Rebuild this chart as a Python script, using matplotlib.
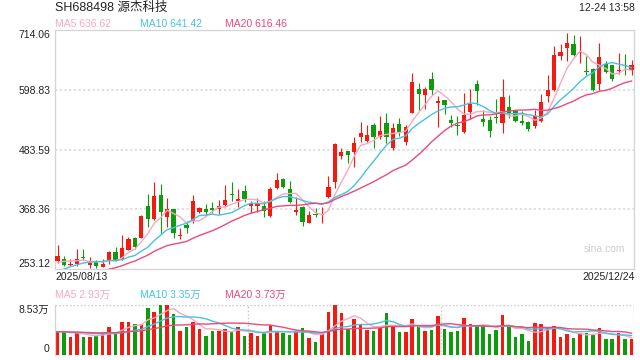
import numpy as np
import pandas as pd
import matplotlib
matplotlib.use('Agg')
import matplotlib.pyplot as plt

plt.rcParams['font.family'] = ['Liberation Sans', 'Noto Sans CJK SC', 'DejaVu Sans']

# daily k-line, 2025/08/13 .. 2025/12/24
opens = [268.7, 272.6, 260.4, 263.5, 276.5, 261.6, 266.8, 257.7, 270.7, 285.5,
         272.6, 290.5, 313.1, 313.7, 374.9, 349.2, 396.1, 354.2, 368.5, 317.0,
         338.2, 345.9, 363.3, 369.1, 371.6, 368.5, 376.8, 398.6, 384.5, 403.8,
         374.9, 375.5, 375.5, 355.6, 409.6, 426.9, 407.7, 363.3, 373.5, 342.7,
         359.4, 358.1, 392.8, 421.8, 471.4, 481.0, 479.7, 508.6, 500.3, 530.6,
         507.4, 534.5, 487.4, 532.5, 498.9, 554.9, 600.6, 589.0, 619.9, 573.0,
         579.4, 540.8, 531.2, 518.2, 556.8, 610.3, 542.7, 540.8, 546.6, 535.0,
         565.9, 558.8, 539.5, 537.0, 529.2, 538.3, 587.7, 599.3, 663.7, 678.4,
         686.1, 669.5, 635.9, 639.8, 610.3, 648.8, 645.6, 635.4, 646.9, 636.7]
highs = [299.0, 278.4, 272.0, 291.3, 291.3, 277.0, 270.7, 272.0, 287.5, 295.2,
         318.3, 314.5, 315.6, 357.5, 398.0, 421.2, 417.3, 389.7, 369.5, 331.9,
         346.5, 395.5, 373.5, 378.7, 383.2, 386.4, 415.4, 421.2, 407.7, 414.8,
         385.1, 390.3, 385.1, 412.1, 439.1, 428.9, 423.7, 391.7, 375.5, 365.8,
         370.4, 373.5, 432.7, 497.0, 486.8, 481.5, 508.6, 537.5, 531.2, 535.6,
         548.5, 553.7, 534.5, 545.2, 531.2, 630.9, 611.6, 605.0, 634.0, 587.7,
         580.0, 550.4, 548.5, 592.3, 600.0, 618.0, 560.1, 548.5, 581.9, 619.9,
         588.5, 560.7, 558.8, 538.3, 559.5, 591.0, 627.1, 683.0, 687.4, 708.1,
         704.2, 702.3, 663.7, 640.0, 689.4, 654.1, 647.5, 670.1, 668.2, 657.1]
lows = [265.4, 259.1, 259.1, 258.5, 270.7, 255.8, 254.6, 256.6, 262.9, 269.3,
        270.7, 289.9, 292.5, 312.5, 334.9, 347.8, 322.2, 333.8, 312.5, 310.6,
        322.2, 342.7, 360.8, 355.6, 360.8, 359.4, 373.5, 384.5, 373.5, 383.2,
        361.9, 363.9, 354.2, 354.2, 407.1, 410.2, 381.3, 357.5, 336.9, 341.5,
        354.2, 341.5, 390.9, 409.0, 465.6, 457.3, 450.7, 498.9, 498.9, 486.2,
        503.6, 495.8, 482.9, 509.9, 492.6, 553.7, 560.1, 561.4, 589.0, 526.7,
        551.8, 527.9, 511.9, 516.3, 542.2, 569.7, 529.2, 508.6, 535.0, 515.7,
        544.7, 537.0, 530.6, 520.1, 525.4, 537.0, 575.6, 596.2, 657.1, 654.1,
        663.7, 650.8, 628.2, 596.2, 599.3, 631.5, 616.6, 629.6, 628.2, 628.2]
closes = [278.4, 261.6, 263.5, 272.6, 275.1, 264.9, 259.1, 262.4, 286.1, 271.3,
          293.8, 311.2, 295.7, 355.6, 350.4, 394.1, 363.9, 368.5, 323.4, 318.9,
          333.0, 384.5, 371.0, 363.3, 367.7, 374.9, 386.4, 396.7, 388.9, 387.8,
          379.3, 379.3, 365.8, 407.1, 425.0, 412.1, 383.2, 367.1, 344.6, 357.5,
          357.5, 360.0, 411.0, 494.5, 479.1, 473.3, 495.8, 515.7, 511.3, 508.6,
          519.6, 508.6, 524.8, 517.7, 526.7, 614.7, 591.5, 600.0, 598.7, 577.5,
          569.7, 534.5, 528.7, 550.4, 571.7, 596.8, 537.5, 520.1, 544.7, 585.2,
          553.7, 539.5, 534.5, 524.0, 548.5, 575.6, 597.4, 666.8, 672.0, 689.4,
          664.9, 672.0, 634.0, 598.1, 662.4, 633.4, 618.6, 637.3, 644.4, 646.4]
# volume, unit 万 (10k)
volumes = [4.03, 3.80, 3.00, 3.80, 3.00, 3.00, 3.17, 3.63, 4.73, 3.63,
           5.59, 5.48, 5.25, 5.25, 8.01, 7.21, 8.53, 8.53, 6.92, 4.03,
           4.73, 5.59, 4.27, 3.17, 4.03, 4.03, 4.27, 3.92, 4.61, 3.17,
           3.75, 3.17, 3.63, 5.01, 3.86, 3.75, 3.40, 4.03, 4.55, 2.88,
           2.19, 3.46, 7.21, 8.53, 7.03, 4.32, 5.99, 5.13, 4.21, 4.03,
           4.50, 7.03, 5.07, 3.92, 3.92, 6.11, 4.78, 4.09, 4.21, 6.63,
           4.38, 3.92, 4.03, 6.28, 5.25, 4.78, 5.07, 3.52, 4.21, 6.80,
           4.78, 3.00, 3.52, 2.31, 5.42, 5.25, 4.61, 4.90, 3.00, 3.52,
           2.82, 3.63, 3.75, 3.40, 4.55, 2.65, 2.65, 3.69, 2.65, 2.71]

# days before the window, only needed so the moving averages start right
prior_close = [212, 215, 210, 214, 211, 216, 213, 218, 214, 217,
               213, 216, 238, 240, 245, 250, 262, 268, 270]
prior_volume = [3.6, 3.9, 4.1, 3.7, 3.8, 4.0, 3.5, 3.9, 4.2, 3.8,
                3.7, 4.0, 3.9, 3.6, 4.1, 3.8, 3.9, 4.0, 3.8]

# values shown in the legends
ma_periods = [5, 10, 20]
ma_price_shown = [636.62, 641.42, 616.46]
ma_volume_shown = [2.93, 3.35, 3.73]

price_ticks = [253.12, 368.36, 483.59, 598.83, 714.06]
vol_top = 8.53

UP = '#f5190f'
DOWN = '#0c9c0c'
MA_COLORS = ['#f7a8c3', '#47c2e0', '#ea4a7c']
GRID = '#dcdcdc'
SPINE = '#d4d4d4'


def moving_average(values, n, prior):
    full = pd.Series(list(prior) + list(values), dtype=float)
    return full.rolling(n).mean().to_numpy()[len(prior):]


def px(x, y):
    return x / 640, 1 - y / 360


o = np.array(opens)
h = np.array(highs)
l = np.array(lows)
c = np.array(closes)
v = np.array(volumes)
x = np.arange(len(c))
up = c >= o
colors = np.where(up, UP, DOWN)

fig = plt.figure(figsize=(6.4, 3.6), dpi=100)
ax = fig.add_axes([55 / 640, 1 - 269 / 360, 579 / 640, 239 / 360])
axv = fig.add_axes([55 / 640, 1 - 354.5 / 360, 579 / 640, 50 / 360])

xlim = (-0.39, 89.38)

# ---- price panel ----
for yv in price_ticks[1:-1]:
    ax.axhline(yv, color=GRID, lw=1.3, ls=(0, (1.2, 1.4)), zorder=0)

ax.vlines(x, l, h, colors=colors, lw=0.8, zorder=2)
body_h = np.maximum(np.abs(c - o), 1.2)
ax.bar(x, body_h, bottom=np.minimum(o, c), width=0.66, color=colors,
       linewidth=0, zorder=3)

for n, col in zip(ma_periods, MA_COLORS):
    ax.plot(x, moving_average(c, n, prior_close), color=col, lw=1.0, zorder=4)

ax.set_xlim(*xlim)
ax.set_ylim(price_ticks[0], price_ticks[-1])
ax.set_xticks([])
ax.set_yticks(price_ticks)
ax.set_yticklabels(['%.2f' % t for t in price_ticks])
ax.tick_params(axis='y', length=0, pad=3.5, labelsize=7.5, labelcolor='#222222')
labs = ax.get_yticklabels()
labs[0].set_va('bottom')
labs[-1].set_va('top')
for s in ax.spines.values():
    s.set_color(SPINE)
    s.set_linewidth(0.9)

ax.text(0.985, 0.085, 'sina.com', transform=ax.transAxes, ha='right',
        va='center', fontsize=7.5, color='#cfcfcf')

# ---- volume panel ----
axv.bar(x, v, width=0.55, color=colors, linewidth=0, zorder=2)
for n, col in zip(ma_periods, MA_COLORS):
    axv.plot(x, moving_average(v, n, prior_volume), color=col, lw=1.0, zorder=3)

axv.set_xlim(*xlim)
axv.set_ylim(0, vol_top)
for fx in (1 / 3, 2 / 3, 1.0):
    axv.axvline(xlim[0] + fx * (xlim[1] - xlim[0]), color='#cccccc', lw=1.0,
                ls=(0, (1.2, 1.4)), zorder=0)
axv.axhline(vol_top, color='#cccccc', lw=1.0, ls=(0, (1.2, 1.4)), zorder=0)
axv.axhline(0, color='#cccccc', lw=1.0, ls=(0, (1.2, 1.4)), zorder=0)
axv.set_xticks([])
axv.set_yticks([0, vol_top])
axv.set_yticklabels(['0', '%.2f万' % vol_top])
axv.tick_params(axis='y', length=0, pad=4, labelsize=7.5, labelcolor='#222222')
vl = axv.get_yticklabels()
vl[0].set_va('bottom')
vl[1].set_va('top')
for side in ('top', 'right', 'bottom'):
    axv.spines[side].set_visible(False)
axv.spines['left'].set_color(SPINE)
axv.spines['left'].set_linewidth(0.9)

# ---- header texts ----
fig.text(*px(55, 8), 'SH688498 源杰科技', fontsize=9, color='#222222', va='center')
fig.text(*px(635, 8), '12-24 13:58', fontsize=7.5, color='#222222',
         va='center', ha='right')

for n, val, col, xp in zip(ma_periods, ma_price_shown, MA_COLORS, (55, 140, 225)):
    fig.text(*px(xp, 24), 'MA%d %.2f' % (n, val), fontsize=7.5,
             color=col, va='center')

fig.text(*px(55, 277), '2025/08/13', fontsize=7.5, color='#222222', va='center')
fig.text(*px(635, 277), '2025/12/24', fontsize=7.5, color='#222222',
         va='center', ha='right')

for n, val, col, xp in zip(ma_periods, ma_volume_shown, MA_COLORS, (55, 140, 225)):
    fig.text(*px(xp, 295), 'MA%d %.2f万' % (n, val), fontsize=7.5,
             color=col, va='center')

fig.savefig('out.png', dpi=100)
